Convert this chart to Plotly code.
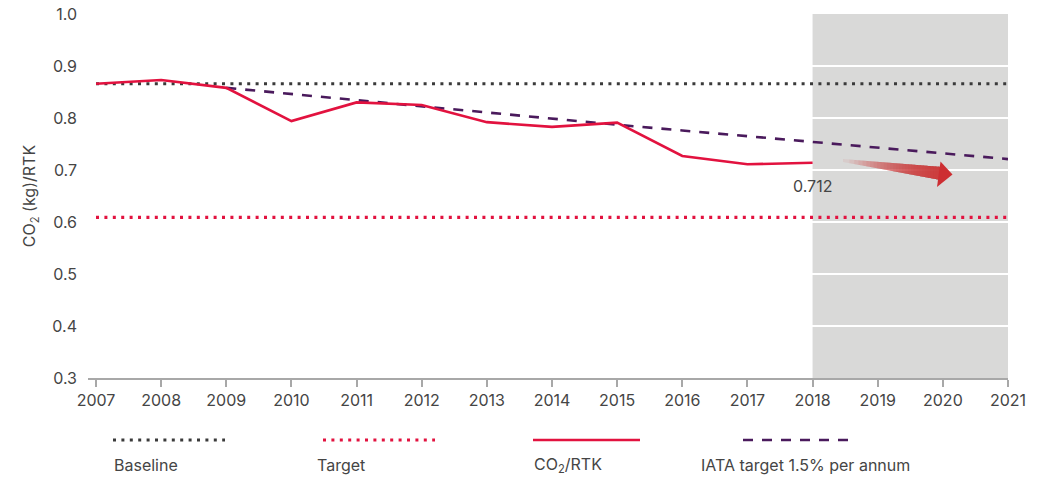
import plotly.graph_objects as go

years = list(range(2007, 2019))
co2_rtk = [0.866, 0.873, 0.858, 0.794, 0.830, 0.825, 0.792, 0.783, 0.791, 0.727, 0.711, 0.714]
iata_years = list(range(2009, 2022))
iata_target = [0.858, 0.846, 0.834, 0.822, 0.810, 0.798, 0.787, 0.776, 0.765, 0.754, 0.743, 0.732, 0.721]
baseline_years = [2007, 2021]
baseline = [0.866, 0.866]
target = [0.609, 0.609]
label_value = "0.712"
shade_start, shade_end = 2018, 2021
y_ticks = [0.3, 0.4, 0.5, 0.6, 0.7, 0.8, 0.9, 1.0]
x_ticks = list(range(2007, 2022))

RED = "#e2123f"
DARK = "#3a3a3a"
PURPLE = "#4a1a5c"
TXT = "#454545"
FONT = "Inter"
FS = 16

# layout geometry in pixels
W, H = 1043, 477
L, R, T, B = 88, 35, 14, 99
X0, X1 = 2006.877, 2021
Y0, Y1 = 0.3, 1.0
PW, PH = W - L - R, H - T - B


def px2x(px):
    return X0 + (px - L) / PW * (X1 - X0)


def py2y(py):
    return Y1 - (py - T) / PH * (Y1 - Y0)


def pxp(px):
    return (px - L) / PW


def pyp(py):
    return (H - B - py) / PH


fig = go.Figure()

fig.add_trace(go.Scatter(x=baseline_years, y=baseline, mode="lines",
                         line=dict(color=DARK, width=3, dash="3px,5.4px"), showlegend=False))
fig.add_trace(go.Scatter(x=baseline_years, y=target, mode="lines",
                         line=dict(color=RED, width=3.2, dash="3px,5.4px"), showlegend=False))
fig.add_trace(go.Scatter(x=iata_years, y=iata_target, mode="lines",
                         line=dict(color=PURPLE, width=2.6, dash="10px,9px"), showlegend=False))
fig.add_trace(go.Scatter(x=years, y=co2_rtk, mode="lines",
                         line=dict(color=RED, width=2.6), showlegend=False))

shapes = []
# shaded projection region
shapes.append(dict(type="rect", xref="x", yref="y", x0=shade_start, x1=shade_end, y0=Y0, y1=Y1,
                   fillcolor="#d9d9d8", line=dict(width=0), layer="below"))

# gradient arrow (decorative): stacked translucent wedges that all end at the head
sx0, sx1 = 843, 941


def top(p):
    return 159 + (167 - 159) * (p - sx0) / (sx1 - sx0)


def bot(p):
    return 162 + (180 - 162) * (p - sx0) / (sx1 - sx0)


n = 30
for i in range(n):
    a = sx0 + (sx1 - sx0) * (i / n) ** 0.8
    path = "M {} {} L {} {} L {} {} L {} {} Z".format(
        px2x(a), py2y(top(a)), px2x(sx1), py2y(top(sx1)),
        px2x(sx1), py2y(bot(sx1)), px2x(a), py2y(bot(a)))
    shapes.append(dict(type="path", xref="x", yref="y", path=path,
                       fillcolor="rgba(206,46,50,0.08)", line=dict(width=0)))
head = "M {} {} L {} {} L {} {} Z".format(px2x(940.5), py2y(161.5), px2x(952.5), py2y(174.5),
                                        px2x(937), py2y(187))
shapes.append(dict(type="path", xref="x", yref="y", path=head,
                   fillcolor="rgb(205,46,50)", line=dict(width=0)))

# manual legend
legend_items = [
    ("Baseline", 113, 225, 112, dict(color=DARK, width=3, dash="3px,5.4px")),
    ("Target", 323, 435, 315, dict(color=RED, width=3.2, dash="3px,5.4px")),
    ("CO<sub>2</sub>/RTK", 533, 640, 532, dict(color=RED, width=2.6)),
    ("IATA target 1.5% per annum", 743, 852, 699, dict(color=PURPLE, width=2.6, dash="10px,9px")),
]
annotations = []
for text, lx0, lx1, tx, ln in legend_items:
    shapes.append(dict(type="line", xref="paper", yref="paper", x0=pxp(lx0), x1=pxp(lx1),
                       y0=pyp(440), y1=pyp(440), line=ln))
    annotations.append(dict(text=text, xref="paper", yref="paper", x=pxp(tx), y=pyp(465),
                            xanchor="left", yanchor="middle", showarrow=False,
                            font=dict(family=FONT, size=FS, color=TXT)))

annotations.append(dict(text=label_value, x=shade_start, y=co2_rtk[-1], xref="x", yref="y",
                        yshift=-23, xanchor="center", yanchor="middle", showarrow=False,
                        font=dict(family=FONT, size=FS, color=TXT)))

fig.update_layout(
    width=W, height=H,
    margin=dict(l=L, r=R, t=T, b=B, pad=0, autoexpand=False),
    plot_bgcolor="white", paper_bgcolor="white",
    font=dict(family=FONT, size=FS, color=TXT),
    shapes=shapes, annotations=annotations, showlegend=False,
)
fig.update_xaxes(range=[X0, X1], tickvals=x_ticks, ticktext=[str(v) for v in x_ticks],
                 showgrid=False, zeroline=False, showline=True, linecolor="#a8a8a8", linewidth=2,
                 ticks="outside", ticklen=7, tickwidth=2, tickcolor="#a8a8a8", automargin=False,
                 tickfont=dict(family=FONT, size=FS, color=TXT))
fig.update_yaxes(range=[Y0, Y1], tickvals=y_ticks, ticktext=["{:.1f}".format(v) for v in y_ticks],
                 showgrid=True, gridcolor="white", gridwidth=2, zeroline=False, showline=False,
                 ticks="", ticklabelstandoff=10, automargin=False,
                 tickfont=dict(family=FONT, size=FS, color=TXT),
                 title=dict(text="CO<sub>2</sub> (kg)/RTK", font=dict(family=FONT, size=FS, color=TXT),
                            standoff=12))

fig.write_html("out.html", config={"displayModeBar": False},
               post_script="document.body.style.margin='0';")
